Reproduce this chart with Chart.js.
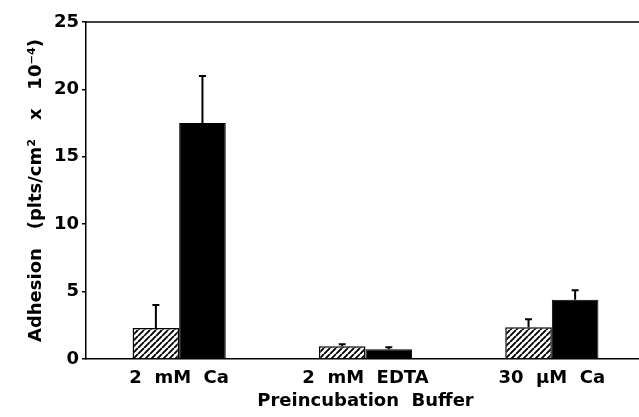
<!DOCTYPE html>
<html>
<head>
<meta charset="utf-8">
<script src="https://cdn.jsdelivr.net/npm/chart.js@4/dist/chart.umd.min.js"></script>
<style>
  html, body { margin: 0; padding: 0; background: #fff; overflow: hidden; }
  #wrap { width: 650px; height: 417px; }
</style>
</head>
<body>
<div id="wrap"><canvas id="chart" width="650" height="417"></canvas></div>
<script>
// Adhesion by preincubation buffer (plts/cm2 x 10^-4)
const categories = ['2  mM  Ca', '2  mM  EDTA', '30  \u00b5M  Ca'];
const hatchedVals = [2.3, 0.95, 2.35];
const hatchedSd = [1.7, 0.15, 0.6];
const solidVals = [17.5, 0.72, 4.4];
const solidSd = [3.5, 0.15, 0.7];
const yTicks = [0, 5, 10, 15, 20, 25];

const FONT = "'DejaVu Sans', 'Liberation Sans', Arial, sans-serif";

function hatchPattern() {
  const s = 6;
  const c = document.createElement('canvas');
  c.width = s; c.height = s;
  const g = c.getContext('2d');
  g.fillStyle = '#fff';
  g.fillRect(0, 0, s, s);
  g.strokeStyle = '#000';
  g.lineWidth = 1.9;
  g.beginPath();
  // "/" lines, repeated across tile edges
  for (const off of [-s, 0, s]) {
    g.moveTo(off, s);
    g.lineTo(off + s, 0);
  }
  g.stroke();
  return g.createPattern(c, 'repeat');
}

const sdByDataset = [hatchedSd, solidSd];

// error bars (upper half only) + top frame line
const extras = {
  id: 'extras',
  afterDatasetsDraw(chart) {
    const ctx = chart.ctx;
    const y = chart.scales.y;
    ctx.save();
    ctx.strokeStyle = '#000';
    ctx.lineWidth = 2;
    chart.data.datasets.forEach((ds, di) => {
      const meta = chart.getDatasetMeta(di);
      meta.data.forEach((bar, i) => {
        const top = y.getPixelForValue(ds.data[i] + sdByDataset[di][i]);
        ctx.beginPath();
        ctx.moveTo(bar.x, bar.y);
        ctx.lineTo(bar.x, top);
        ctx.moveTo(bar.x - 3.5, top);
        ctx.lineTo(bar.x + 3.5, top);
        ctx.stroke();
      });
    });
    const a = chart.chartArea;
    ctx.lineWidth = 1.5;
    ctx.beginPath();
    ctx.moveTo(a.left, a.top);
    ctx.lineTo(chart.width, a.top);
    ctx.stroke();
    ctx.restore();
  }
};

new Chart(document.getElementById('chart'), {
  type: 'bar',
  data: {
    labels: categories,
    datasets: [
      {
        data: hatchedVals,
        backgroundColor: hatchPattern(),
        borderColor: '#000',
        borderWidth: 1.5,
        categoryPercentage: 0.5,
        barPercentage: 1.0
      },
      {
        data: solidVals,
        backgroundColor: '#000',
        borderColor: '#000',
        borderWidth: 1,
        categoryPercentage: 0.5,
        barPercentage: 1.0
      }
    ]
  },
  options: {
    responsive: false,
    animation: false,
    devicePixelRatio: 1,
    layout: { padding: { top: 22, right: 5, left: 0, bottom: 0 } },
    plugins: {
      legend: { display: false },
      tooltip: { enabled: false }
    },
    scales: {
      x: {
        grid: { display: false, drawTicks: false },
        border: { display: true, color: '#000', width: 1.5 },
        ticks: { color: '#000', font: { family: FONT, size: 18, weight: 'bold' }, padding: 9, maxRotation: 0 },
        title: {
          display: true,
          text: 'Preincubation  Buffer',
          color: '#000',
          font: { family: FONT, size: 18, weight: 'bold' },
          padding: { top: 0, bottom: 5 }
        },
        afterFit(scale) { scale.height = 58; }
      },
      y: {
        min: 0,
        max: 25,
        afterBuildTicks(scale) { scale.ticks = yTicks.map(v => ({ value: v })); },
        grid: { display: true, drawOnChartArea: false, drawTicks: true, tickLength: 4, color: '#000', lineWidth: 1.5 },
        border: { display: true, color: '#000', width: 1.5 },
        ticks: { color: '#000', font: { family: FONT, size: 18, weight: 'bold' }, padding: 3 },
        title: {
          display: true,
          text: 'Adhesion   (plts/cm\u00b2   x   10\u207b\u2074)',
          color: '#000',
          font: { family: FONT, size: 18, weight: 'bold' },
          padding: { top: 26, bottom: 0 }
        },
        afterFit(scale) { scale.width = 86; }
      }
    }
  },
  plugins: [extras]
});
</script>
</body>
</html>
